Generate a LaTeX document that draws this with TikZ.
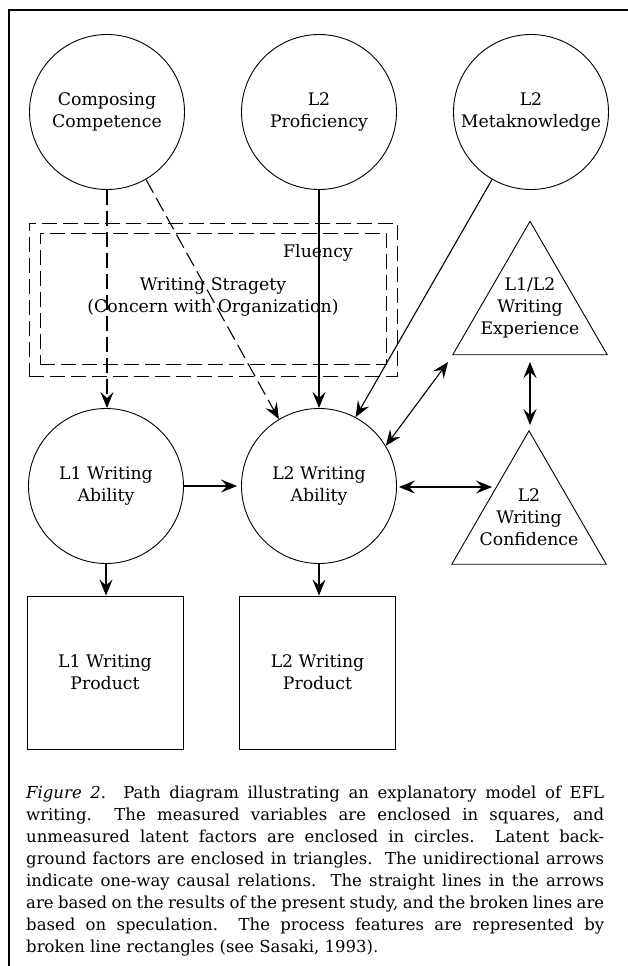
\documentclass[tikz,border=0pt]{standalone}
\usepackage{fontspec}
\setmainfont{DejaVu Serif}
\usetikzlibrary{arrows.meta,calc}
\begin{document}
\begin{tikzpicture}[x=1pt,y=-1pt,
  lab/.style={font=\fontsize{17.3}{22}\selectfont, align=center, inner sep=0pt},
  latent/.style={circle, draw, line width=0.9pt, minimum size=155pt, inner sep=0pt, lab},
  measured/.style={rectangle, draw, line width=0.9pt, minimum width=156pt, minimum height=153pt, inner sep=0pt, lab},
  tribox/.style={rectangle, minimum width=154pt, minimum height=133pt, inner sep=0pt},
  triline/.style={line width=0.9pt, line join=miter},
  proc/.style={draw, line width=0.9pt, dash pattern=on 15pt off 6pt},
  head/.tip={Stealth[length=16pt,width=13pt,inset=6pt]},
  causal/.style={line width=1.1pt, -head},
  spec/.style={causal, dash pattern=on 15pt off 6pt},
  mutual/.style={line width=1.1pt, head-head},
  capline/.style={anchor=base west, inner sep=0pt, font=\fontsize{16.5}{22}\selectfont},
]
\useasboundingbox (0,0) rectangle (628,966);
\fill[white] (0,0) rectangle (628,966);
% partial frame
\draw[line width=2.5pt, line join=miter] (9,970) -- (9,10) -- (632,10);

% process rectangles
\node[proc, minimum width=368pt, minimum height=153pt] (outer) at (213,299.5) {};
\node[proc, minimum width=346pt, minimum height=131pt] (inner) at (213,298.5) {};
\node[lab] (flu) at (318,253) {Fluency};
\node[lab] (ws) at (213,297) {Writing Stragety\\(Concern with Organization)};

% latent factors
\node[latent] (cc) at (107,112) {Composing\\Competence};
\node[latent] (pr) at (319,112) {L2\\Proficiency};
\node[latent] (mk) at (531,112) {L2\\Metaknowledge};
\node[latent] (l1a) at (106,486) {L1 Writing\\Ability};
\node[latent] (l2a) at (319,486) {L2 Writing\\Ability};

% measured variables
\node[measured] (p1) at (105,672.5) {L1 Writing\\Product};
\node[measured] (p2) at (317.5,672.5) {L2 Writing\\Product};

% background factors (triangles)
\node[tribox] (exp) at (530,288) {};
\draw[triline] (exp.north) -- (exp.south east) -- (exp.south west) -- cycle;
\node[lab] (explab) at (530,308) {L1/L2\\Writing\\Experience};
\node[tribox] (conf) at (529,497.5) {};
\draw[triline] (conf.north) -- (conf.south east) -- (conf.south west) -- cycle;
\node[lab] (conflab) at (529,517) {L2\\Writing\\Confidence};

\coordinate (confin) at (492,487);
\coordinate (expin) at (448,362);
\coordinate (expbot) at (530,362);
\coordinate (conftop) at (530,425);

% connectors
\draw[spec] (cc.south) -- (cc.south |- l1a.north);
\draw[spec] (cc.-60) -- (l2a.121);
\draw[causal] (pr.south) -- (l2a.north);
\draw[causal] (mk.240) -- (l2a.62);
\draw[causal] (l1a.east) -- ([xshift=-4pt]l2a.west);
\draw[mutual] ([xshift=2pt]l2a.east |- confin) -- (confin);
\draw[mutual] (l2a.31) -- (expin);
\draw[mutual] (expbot) -- (conftop);
\draw[causal] (l1a.south) -- (p1.north -| l1a.south);
\draw[causal] (l2a.south) -- (p2.north -| l2a.south);

% caption
\node[capline] (c1) at (26,798) {\makebox[578pt][s]{\textit{Figure 2}. Path diagram illustrating an explanatory model of EFL}};
\node[capline] (c2) at (26,820) {\makebox[578pt][s]{writing.\ \ The measured variables are enclosed in squares, and}};
\node[capline] (c3) at (26,842) {\makebox[578pt][s]{unmeasured latent factors are enclosed in circles.\ \ Latent back-}};
\node[capline] (c4) at (26,864) {\makebox[578pt][s]{ground factors are enclosed in triangles.\ \ The unidirectional arrows}};
\node[capline] (c5) at (26,886) {\makebox[578pt][s]{indicate one-way causal relations.\ \ The straight lines in the arrows}};
\node[capline] (c6) at (26,908) {\makebox[578pt][s]{are based on the results of the present study, and the broken lines are}};
\node[capline] (c7) at (26,930) {\makebox[578pt][s]{based on speculation.\ \ The process features are represented by}};
\node[capline] (c8) at (26,952) {broken line rectangles (see Sasaki, 1993).};
\end{tikzpicture}
\end{document}
